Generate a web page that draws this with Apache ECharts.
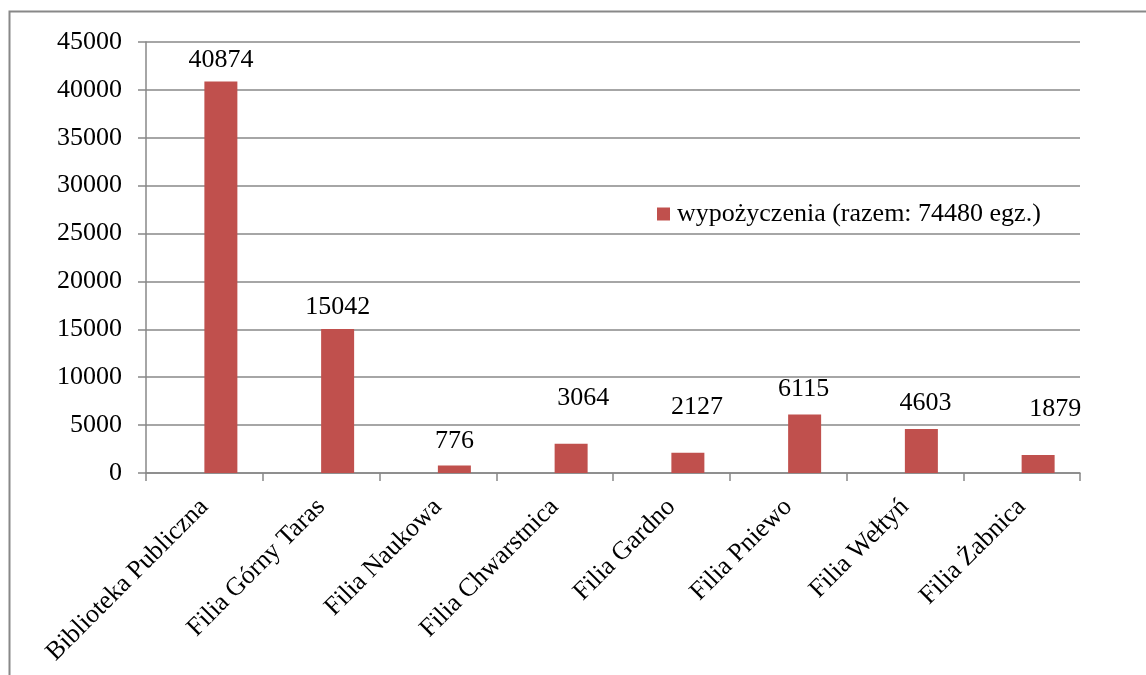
<!DOCTYPE html>
<html>
<head>
<meta charset="utf-8">
<script src="https://cdn.jsdelivr.net/npm/echarts@6/dist/echarts.min.js"></script>
<style>
  html, body { margin: 0; padding: 0; background: #fff; }
  #main { width: 1146px; height: 675px; }
</style>
</head>
<body>
<div id="main"></div>
<script>
var categories = ['Biblioteka Publiczna', 'Filia Górny Taras', 'Filia Naukowa', 'Filia Chwarstnica',
                  'Filia Gardno', 'Filia Pniewo', 'Filia Wełtyń', 'Filia Żabnica'];
var loans = [40874, 15042, 776, 3064, 2127, 6115, 4603, 1879];
var seriesName = 'wypożyczenia (razem: 74480 egz.)';

// przesunięcia etykiet jak na oryginale [dx, dy]
var labelNudge = [[0, -6], [0, -7], [0, -9], [12, -30], [9, -30], [-1, -10], [4, -11], [17, -31]];

var font = '"Liberation Serif", "Times New Roman", serif';
var gray = '#888';
var fs = 26;

var myChart = echarts.init(document.getElementById('main'));
myChart.setOption({
    animation: false,
    textStyle: { fontFamily: font },
    graphic: [{
        type: 'rect',
        shape: { x: 9.5, y: 11.5, width: 1200, height: 700 },
        style: { fill: 'none', stroke: gray, lineWidth: 2 }
    }],
    legend: {
        data: [seriesName],
        left: 652,
        top: 196,
        icon: 'rect',
        itemWidth: 13,
        itemHeight: 13,
        textStyle: { fontFamily: font, fontSize: fs, color: '#000', padding: [0, 0, 0, 2] }
    },
    grid: { left: 146, right: 66, top: 42, bottom: 202, containLabel: false },
    xAxis: {
        type: 'category',
        data: categories,
        axisLine: { lineStyle: { color: gray, width: 1.5 } },
        axisTick: { show: true, length: 8, lineStyle: { color: gray, width: 1.5 } },
        axisLabel: { rotate: 45, margin: 30, fontFamily: font, fontSize: fs, color: '#000' }
    },
    yAxis: {
        type: 'value',
        min: 0,
        max: 45000,
        interval: 5000,
        axisLine: { show: true, lineStyle: { color: gray, width: 1.5 } },
        axisTick: { show: true, length: 8, lineStyle: { color: gray, width: 1.5 } },
        axisLabel: { margin: 24, fontFamily: font, fontSize: fs, color: '#000',
                     formatter: function (v) { return String(v); } },
        splitLine: { lineStyle: { color: gray, width: 1.5 } }
    },
    series: [{
        // pusta seria - słupki stoją w prawej połowie kategorii
        name: 'pusta',
        type: 'bar',
        barWidth: 33,
        barGap: 0,
        data: []
    }, {
        name: seriesName,
        type: 'bar',
        barWidth: 33,
        barGap: 0,
        itemStyle: { color: '#C0504D' },
        data: loans.map(function (v, i) {
            return { value: v, label: { offset: labelNudge[i] } };
        }),
        label: {
            show: true,
            position: 'top',
            distance: 2,
            fontFamily: font,
            fontSize: fs,
            color: '#000'
        }
    }]
});
</script>
</body>
</html>
